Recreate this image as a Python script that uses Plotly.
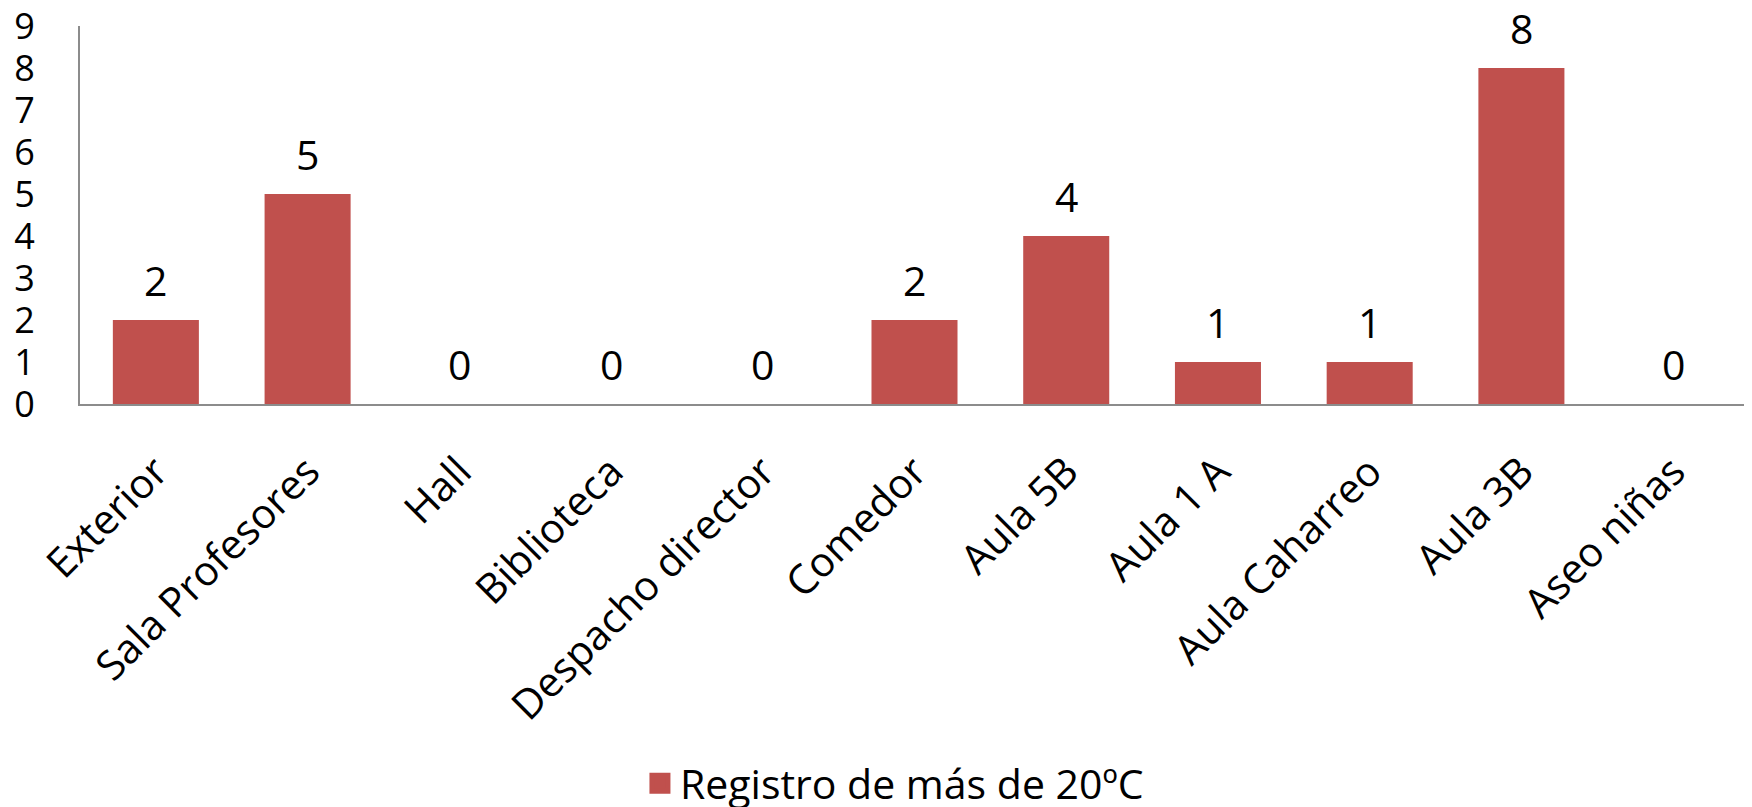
import plotly.graph_objects as go

categories = ["Exterior", "Sala Profesores", "Hall", "Biblioteca", "Despacho director",
              "Comedor", "Aula 5B", "Aula 1 A", "Aula Caharreo", "Aula 3B", "Aseo niñas"]
values = [2, 5, 0, 0, 0, 2, 4, 1, 1, 8, 0]
series_name = "Registro de más de 20ºC"
y_ticks = [0, 1, 2, 3, 4, 5, 6, 7, 8, 9]

BAR_COLOR = "#C0504D"
AXIS_COLOR = "#8C8C8C"
FONT = "'Open Sans', 'Noto Sans', sans-serif"
FS_LABEL = 41
FS_YTICK = 36

fig = go.Figure()
fig.add_trace(go.Bar(
    x=categories, y=values, name=series_name,
    marker=dict(color=BAR_COLOR, line=dict(width=0)),
    showlegend=False,
))
# legend proxy with a larger swatch
fig.add_trace(go.Scatter(
    x=[None], y=[None], mode="markers", name=series_name,
    marker=dict(symbol="square", size=16, color=BAR_COLOR,
                line=dict(color=BAR_COLOR, width=5)),
    showlegend=True,
))

for c, v in zip(categories, values):
    fig.add_annotation(x=c, y=v, text=str(v), showarrow=False,
                       yanchor="middle", yshift=40,
                       font=dict(family=FONT, size=FS_LABEL, color="black"))

fig.update_layout(
    width=1744, height=799,
    margin=dict(l=72, r=3, t=18, b=403, autoexpand=False),
    paper_bgcolor="white", plot_bgcolor="white",
    bargap=0.433,
    font=dict(family=FONT, size=FS_LABEL, color="black"),
    showlegend=True,
    legend=dict(orientation="h", x=0.3355, xanchor="left", y=-1.004, yanchor="middle",
                font=dict(family=FONT, size=FS_LABEL, color="black"),
                itemsizing="trace", bgcolor="rgba(0,0,0,0)"),
)
fig.update_xaxes(
    type="category", tickangle=-45, showgrid=False, zeroline=False,
    showline=True, linecolor=AXIS_COLOR, linewidth=2, ticks="",
    ticklabelstandoff=25, automargin=False,
    tickfont=dict(family=FONT, size=FS_LABEL, color="black"),
)
fig.update_yaxes(
    range=[0, 9], tickvals=y_ticks, ticktext=[str(t) for t in y_ticks],
    showgrid=False, zeroline=False,
    showline=True, linecolor=AXIS_COLOR, linewidth=2, ticks="",
    ticklabelstandoff=36, ticklabeloverflow="allow", automargin=False,
    tickfont=dict(family=FONT, size=FS_YTICK, color="black"),
)

fig.write_html("out.html")
